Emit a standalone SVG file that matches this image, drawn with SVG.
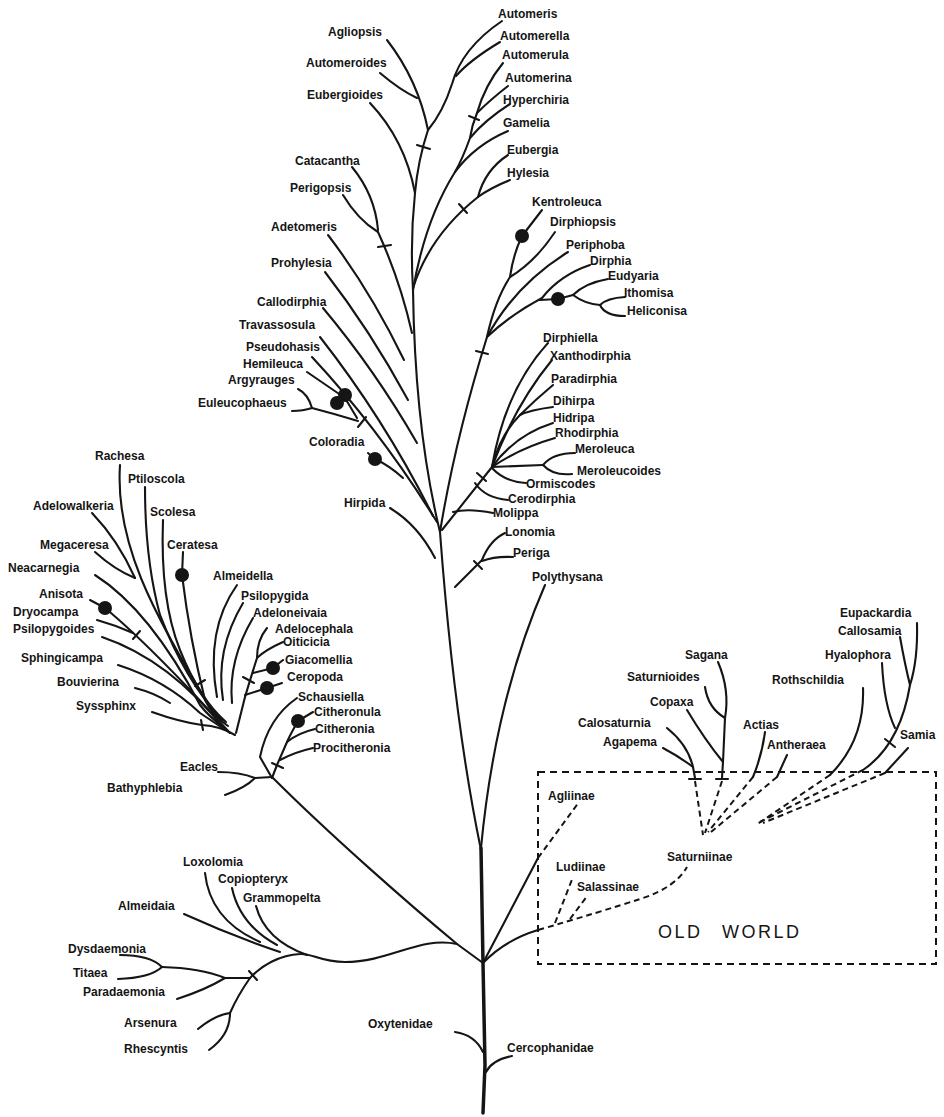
<svg xmlns="http://www.w3.org/2000/svg" width="944" height="1117" viewBox="0 0 944 1117">
<style>
.b{fill:none;stroke:#151515;stroke-width:2.1;stroke-linecap:round;stroke-linejoin:round}
.d{fill:none;stroke:#151515;stroke-width:2;stroke-dasharray:6 4}
.box{fill:none;stroke:#151515;stroke-width:2;stroke-dasharray:7 5}
.tr{fill:none;stroke:#151515;stroke-width:3.5;stroke-linecap:round}
.dot{fill:#151515}
text{font-family:"Liberation Sans",Arial,sans-serif;font-weight:bold;font-size:12px;fill:#151515}
.ow{font-weight:normal;font-size:18px;letter-spacing:2.5px}
</style>
<rect width="944" height="1117" fill="#ffffff"/>
<g id="connectors">
<!-- trunk -->
<path class="tr" d="M481,848 L483,963 L485,1065 L483,1113"/>
<path class="b" d="M440,532 Q454,720 481,850"/>
<path class="b" d="M545,585 Q495,700 481,848"/>
<!-- upper stem -->
<path class="b" d="M413,290 Q415,430 440,532"/>
<path class="b" d="M415,193 Q410,240 413,290"/>
<path class="b" d="M428,130 Q418,160 415,193"/>
<path class="b" d="M502,21 Q462,48 452,84 Q443,112 428,130"/>
<path class="b" d="M500,42 Q470,60 456,76"/>
<path class="b" d="M387,40 Q418,80 428,130"/>
<path class="b" d="M380,73 Q400,90 417,98"/>
<path class="b" d="M370,103 Q405,140 415,193"/>
<path class="b" d="M503,63 Q485,85 477,113 Q472,125 470,138"/>
<path class="b" d="M508,86 Q490,100 477,113"/>
<path class="b" d="M510,104 Q485,120 470,138"/>
<path class="b" d="M470,138 Q462,160 455,172"/>
<path class="b" d="M508,131 Q475,145 455,172"/>
<path class="b" d="M455,172 Q425,220 413,290"/>
<path class="b" d="M508,155 Q485,170 478,197"/>
<path class="b" d="M510,180 Q490,188 478,197"/>
<path class="b" d="M478,197 Q430,235 413,288"/>
<path class="b" d="M352,167 Q375,195 378,230"/>
<path class="b" d="M343,195 Q358,220 378,232"/>
<path class="b" d="M378,232 Q400,280 412,333"/>
<path class="b" d="M328,235 Q370,290 404,360"/>
<path class="b" d="M325,272 Q370,330 408,400"/>
<path class="b" d="M323,308 Q375,370 417,443"/>
<path class="b" d="M320,337 Q385,420 433,516"/>
<path class="b" d="M312,357 Q380,430 437,522"/>
<path class="b" d="M307,372 L345,398 L357,418"/>
<path class="b" d="M298,389 Q308,394 312,408 Q335,414 358,421"/>
<path class="b" d="M292,411 Q303,411 312,408"/>
<path class="b" d="M368,453 L375,459 Q390,466 403,478"/>
<path class="b" d="M390,508 Q418,525 435,558"/>
<!-- right main branch -->
<path class="b" d="M440,532 Q455,440 487,337"/>
<path class="b" d="M542,210 L522,236 Q513,255 510,277"/>
<path class="b" d="M555,232 Q535,262 510,277"/>
<path class="b" d="M510,277 Q495,300 487,337"/>
<path class="b" d="M568,252 Q515,285 487,337"/>
<path class="b" d="M590,265 Q560,275 542,298 Q510,315 487,337"/>
<path class="b" d="M540,300 L558,299 L573,295"/>
<path class="b" d="M608,279 Q585,283 573,295"/>
<path class="b" d="M573,295 Q585,304 600,305"/>
<path class="b" d="M625,297 Q607,298 600,305"/>
<path class="b" d="M625,316 Q605,316 600,305"/>
<path class="b" d="M548,343 Q505,390 492,467"/>
<path class="b" d="M552,360 Q515,405 492,467"/>
<path class="b" d="M553,385 Q535,400 520,415 Q500,435 492,467"/>
<path class="b" d="M553,407 Q530,410 520,415"/>
<path class="b" d="M553,423 Q515,435 492,467"/>
<path class="b" d="M555,438 Q520,448 492,467"/>
<path class="b" d="M575,453 Q553,453 543,465"/>
<path class="b" d="M572,474 Q553,476 543,465"/>
<path class="b" d="M543,465 L492,467"/>
<path class="b" d="M526,483 Q505,482 492,468"/>
<path class="b" d="M492,467 L442,530"/>
<path class="b" d="M508,500 Q485,498 475,483"/>
<path class="b" d="M493,513 Q468,508 453,512"/>
<path class="b" d="M505,533 Q490,540 482,560 L455,587"/>
<path class="b" d="M513,557 Q495,556 482,561"/>
<!-- Ceratocampinae -->
<path class="b" d="M120,465 C115,540 150,610 215,715"/>
<path class="b" d="M92,513 Q118,540 135,578"/>
<path class="b" d="M95,552 Q115,570 135,578"/>
<path class="b" d="M145,487 Q145,560 160,615 Q185,680 222,720"/>
<path class="b" d="M163,520 Q160,600 180,650 Q200,700 226,722"/>
<path class="b" d="M183,552 L182,575 Q190,640 205,700 Q212,715 228,726"/>
<path class="b" d="M95,575 Q150,610 200,705 Q210,718 225,728"/>
<path class="b" d="M90,600 L105,608 Q150,645 230,733"/>
<path class="b" d="M97,620 Q115,625 133,633"/>
<path class="b" d="M102,637 Q170,660 225,730"/>
<path class="b" d="M118,665 Q165,680 200,713 L230,733"/>
<path class="b" d="M135,688 Q155,693 170,703"/>
<path class="b" d="M152,712 Q180,722 202,725 Q220,726 235,735"/>
<path class="b" d="M237,585 Q205,630 217,697"/>
<path class="b" d="M243,603 Q215,650 223,700"/>
<path class="b" d="M253,618 Q228,660 232,703"/>
<path class="b" d="M267,628 Q257,640 257,658 Q250,680 245,697 L236,733"/>
<path class="b" d="M283,642 Q265,650 257,658"/>
<path class="b" d="M283,660 L273,668 L253,673"/>
<path class="b" d="M282,683 L267,688 L245,695"/>
<!-- Citheroniinae -->
<path class="b" d="M297,698 Q268,718 260,757 L272,778"/>
<path class="b" d="M313,712 L298,721 Q290,735 287,742 L277,765 L272,778"/>
<path class="b" d="M315,729 Q298,733 287,742"/>
<path class="b" d="M313,748 Q295,752 280,760"/>
<path class="b" d="M218,772 Q240,772 255,778"/>
<path class="b" d="M225,795 Q245,788 255,778"/>
<path class="b" d="M255,778 L272,777"/>
<path class="b" d="M272,777 C330,835 410,905 457,944 L483,963"/>
<!-- Arsenurinae -->
<path class="b" d="M457,944 C420,936 390,962 345,962 C320,962 312,953 300,954 C280,955 262,965 250,978"/>
<path class="b" d="M184,914 Q230,935 280,952"/>
<path class="b" d="M205,873 Q210,920 260,942"/>
<path class="b" d="M232,888 Q240,925 277,945"/>
<path class="b" d="M256,906 Q265,940 307,955"/>
<path class="b" d="M250,978 L225,978"/>
<path class="b" d="M120,955 Q150,955 162,967"/>
<path class="b" d="M118,979 Q150,978 162,967"/>
<path class="b" d="M162,967 Q200,968 225,978"/>
<path class="b" d="M177,999 Q205,990 225,978"/>
<path class="b" d="M250,978 Q238,995 230,1013"/>
<path class="b" d="M198,1029 Q215,1015 230,1013"/>
<path class="b" d="M209,1050 Q230,1035 230,1013"/>
<path class="b" d="M455,1032 Q475,1035 483,1052"/>
<path class="b" d="M512,1056 Q492,1060 486,1072"/>
<!-- Old world -->
<path class="b" d="M483,963 L538,858"/>
<path class="d" d="M538,858 L579,802"/>
<path class="b" d="M483,963 Q505,940 538,930"/>
<path class="d" d="M538,930 Q600,912 640,899 Q675,888 687,867"/>
<path class="d" d="M555,923 L573,877"/>
<path class="d" d="M570,919 L588,895"/>
<path class="b" d="M718,662 Q730,690 725,718 L723,762"/>
<path class="b" d="M705,687 Q708,708 725,718"/>
<path class="b" d="M687,710 Q705,740 723,762"/>
<path class="b" d="M723,762 L722,778"/>
<path class="b" d="M667,728 Q688,745 693,767"/>
<path class="b" d="M663,748 Q680,757 693,767"/>
<path class="b" d="M693,767 L695,778"/>
<path class="b" d="M765,732 Q762,755 753,777"/>
<path class="b" d="M787,755 L777,777"/>
<path class="b" d="M863,688 Q865,740 830,775"/>
<path class="b" d="M882,663 Q884,705 895,728"/>
<path class="b" d="M917,623 Q918,660 910,685"/>
<path class="b" d="M900,637 Q905,665 910,685"/>
<path class="b" d="M910,685 Q900,745 863,770"/>
<path class="b" d="M908,748 L885,773"/>
<path class="d" d="M695,781 L703,835"/>
<path class="d" d="M722,781 L705,833"/>
<path class="d" d="M753,777 L708,832"/>
<path class="d" d="M777,777 L711,832"/>
<path class="d" d="M830,775 L756,825"/>
<path class="d" d="M863,770 L760,822"/>
<path class="d" d="M885,773 L763,823"/>
<!-- ticks -->
<path class="b" d="M417,145 L430,149"/>
<path class="b" d="M469,116 L479,120"/>
<path class="b" d="M459,204 L467,213"/>
<path class="b" d="M378,247 L391,245"/>
<path class="b" d="M476,351 L488,354"/>
<path class="b" d="M358,427 L366,417"/>
<path class="b" d="M477,473 L486,481"/>
<path class="b" d="M474,561 L482,569"/>
<path class="b" d="M133,639 L140,631"/>
<path class="b" d="M195,686 L205,680"/>
<path class="b" d="M201,720 L203,730"/>
<path class="b" d="M243,677 L254,683"/>
<path class="b" d="M272,763 L283,768"/>
<path class="b" d="M249,971 L257,980"/>
<path class="b" d="M885,739 L895,747"/>
<path class="b" d="M689,779 L701,779"/>
<path class="b" d="M716,779 L728,779"/>
</g>
<rect id="old-world-box" class="box" x="538" y="772" width="398" height="192"/>
<g id="n-Automeris"><text x="498" y="18">Automeris</text></g>
<g id="n-Agliopsis"><text x="328" y="36">Agliopsis</text></g>
<g id="n-Automerella"><text x="500" y="40">Automerella</text></g>
<g id="n-Automerula"><text x="502" y="59">Automerula</text></g>
<g id="n-Automeroides"><text x="306" y="67">Automeroides</text></g>
<g id="n-Automerina"><text x="505" y="82">Automerina</text></g>
<g id="n-Eubergioides"><text x="307" y="99">Eubergioides</text></g>
<g id="n-Hyperchiria"><text x="503" y="104">Hyperchiria</text></g>
<g id="n-Gamelia"><text x="503" y="127">Gamelia</text></g>
<g id="n-Eubergia"><text x="507" y="154">Eubergia</text></g>
<g id="n-Catacantha"><text x="295" y="165">Catacantha</text></g>
<g id="n-Hylesia"><text x="507" y="177">Hylesia</text></g>
<g id="n-Perigopsis"><text x="290" y="192">Perigopsis</text></g>
<g id="n-Kentroleuca"><text x="532" y="206">Kentroleuca</text><circle class="dot" cx="522" cy="236" r="7"/></g>
<g id="n-Dirphiopsis"><text x="550" y="226">Dirphiopsis</text></g>
<g id="n-Adetomeris"><text x="271" y="231">Adetomeris</text></g>
<g id="n-Periphoba"><text x="566" y="249">Periphoba</text></g>
<g id="n-Dirphia"><text x="590" y="265">Dirphia</text></g>
<g id="n-Prohylesia"><text x="271" y="267">Prohylesia</text></g>
<g id="n-Eudyaria"><text x="608" y="280">Eudyaria</text><circle class="dot" cx="558" cy="299" r="7"/></g>
<g id="n-Ithomisa"><text x="624" y="297">Ithomisa</text></g>
<g id="n-Heliconisa"><text x="627" y="315">Heliconisa</text></g>
<g id="n-Callodirphia"><text x="257" y="306">Callodirphia</text></g>
<g id="n-Travassosula"><text x="239" y="329">Travassosula</text></g>
<g id="n-Dirphiella"><text x="543" y="342">Dirphiella</text></g>
<g id="n-Pseudohasis"><text x="246" y="351">Pseudohasis</text></g>
<g id="n-Xanthodirphia"><text x="550" y="360">Xanthodirphia</text></g>
<g id="n-Hemileuca"><text x="243" y="368">Hemileuca</text><circle class="dot" cx="345" cy="395" r="7"/></g>
<g id="n-Argyrauges"><text x="228" y="384">Argyrauges</text><circle class="dot" cx="337" cy="403" r="7"/></g>
<g id="n-Paradirphia"><text x="551" y="383">Paradirphia</text></g>
<g id="n-Dihirpa"><text x="553" y="405">Dihirpa</text></g>
<g id="n-Euleucophaeus"><text x="198" y="407">Euleucophaeus</text></g>
<g id="n-Hidripa"><text x="553" y="422">Hidripa</text></g>
<g id="n-Rhodirphia"><text x="555" y="437">Rhodirphia</text></g>
<g id="n-Coloradia"><text x="309" y="446">Coloradia</text><circle class="dot" cx="375" cy="459" r="7"/></g>
<g id="n-Meroleuca"><text x="575" y="453">Meroleuca</text></g>
<g id="n-Meroleucoides"><text x="577" y="475">Meroleucoides</text></g>
<g id="n-Ormiscodes"><text x="526" y="488">Ormiscodes</text></g>
<g id="n-Cerodirphia"><text x="508" y="503">Cerodirphia</text></g>
<g id="n-Hirpida"><text x="344" y="507">Hirpida</text></g>
<g id="n-Molippa"><text x="493" y="517">Molippa</text></g>
<g id="n-Lonomia"><text x="505" y="536">Lonomia</text></g>
<g id="n-Periga"><text x="513" y="557">Periga</text></g>
<g id="n-Polythysana"><text x="532" y="581">Polythysana</text></g>
<g id="n-Rachesa"><text x="95" y="460">Rachesa</text></g>
<g id="n-Ptiloscola"><text x="128" y="483">Ptiloscola</text></g>
<g id="n-Adelowalkeria"><text x="33" y="510">Adelowalkeria</text></g>
<g id="n-Scolesa"><text x="150" y="516">Scolesa</text></g>
<g id="n-Megaceresa"><text x="40" y="549">Megaceresa</text></g>
<g id="n-Ceratesa"><text x="167" y="549">Ceratesa</text><circle class="dot" cx="182" cy="575" r="7"/></g>
<g id="n-Neacarnegia"><text x="8" y="572">Neacarnegia</text></g>
<g id="n-Almeidella"><text x="213" y="580">Almeidella</text></g>
<g id="n-Anisota"><text x="39" y="598">Anisota</text><circle class="dot" cx="105" cy="608" r="7"/></g>
<g id="n-Psilopygida"><text x="241" y="600">Psilopygida</text></g>
<g id="n-Dryocampa"><text x="13" y="616">Dryocampa</text></g>
<g id="n-Adeloneivaia"><text x="253" y="617">Adeloneivaia</text></g>
<g id="n-Psilopygoides"><text x="13" y="633">Psilopygoides</text></g>
<g id="n-Adelocephala"><text x="275" y="633">Adelocephala</text></g>
<g id="n-Oiticicia"><text x="283" y="646">Oiticicia</text></g>
<g id="n-Sphingicampa"><text x="21" y="662">Sphingicampa</text></g>
<g id="n-Giacomellia"><text x="285" y="664">Giacomellia</text><circle class="dot" cx="273" cy="668" r="7"/></g>
<g id="n-Ceropoda"><text x="287" y="681">Ceropoda</text><circle class="dot" cx="267" cy="688" r="7"/></g>
<g id="n-Bouvierina"><text x="57" y="686">Bouvierina</text></g>
<g id="n-Schausiella"><text x="298" y="701">Schausiella</text></g>
<g id="n-Syssphinx"><text x="76" y="710">Syssphinx</text></g>
<g id="n-Citheronula"><text x="314" y="716">Citheronula</text><circle class="dot" cx="298" cy="721" r="7"/></g>
<g id="n-Citheronia"><text x="315" y="733">Citheronia</text></g>
<g id="n-Procitheronia"><text x="313" y="752">Procitheronia</text></g>
<g id="n-Eacles"><text x="180" y="771">Eacles</text></g>
<g id="n-Bathyphlebia"><text x="107" y="792">Bathyphlebia</text></g>
<g id="n-Loxolomia"><text x="183" y="866">Loxolomia</text></g>
<g id="n-Copiopteryx"><text x="218" y="883">Copiopteryx</text></g>
<g id="n-Grammopelta"><text x="243" y="902">Grammopelta</text></g>
<g id="n-Almeidaia"><text x="118" y="910">Almeidaia</text></g>
<g id="n-Dysdaemonia"><text x="68" y="953">Dysdaemonia</text></g>
<g id="n-Titaea"><text x="73" y="977">Titaea</text></g>
<g id="n-Paradaemonia"><text x="83" y="996">Paradaemonia</text></g>
<g id="n-Arsenura"><text x="124" y="1027">Arsenura</text></g>
<g id="n-Rhescyntis"><text x="124" y="1053">Rhescyntis</text></g>
<g id="n-Oxytenidae"><text x="368" y="1028">Oxytenidae</text></g>
<g id="n-Cercophanidae"><text x="507" y="1052">Cercophanidae</text></g>
<g id="n-Eupackardia"><text x="840" y="617">Eupackardia</text></g>
<g id="n-Callosamia"><text x="838" y="635">Callosamia</text></g>
<g id="n-Sagana"><text x="685" y="659">Sagana</text></g>
<g id="n-Hyalophora"><text x="825" y="659">Hyalophora</text></g>
<g id="n-Saturnioides"><text x="627" y="681">Saturnioides</text></g>
<g id="n-Rothschildia"><text x="772" y="684">Rothschildia</text></g>
<g id="n-Copaxa"><text x="650" y="706">Copaxa</text></g>
<g id="n-Calosaturnia"><text x="578" y="727">Calosaturnia</text></g>
<g id="n-Actias"><text x="743" y="729">Actias</text></g>
<g id="n-Samia"><text x="900" y="739">Samia</text></g>
<g id="n-Agapema"><text x="603" y="746">Agapema</text></g>
<g id="n-Antheraea"><text x="767" y="749">Antheraea</text></g>
<g id="n-Agliinae"><text x="548" y="800">Agliinae</text></g>
<g id="n-Saturniinae"><text x="667" y="861">Saturniinae</text></g>
<g id="n-Ludiinae"><text x="556" y="871">Ludiinae</text></g>
<g id="n-Salassinae"><text x="577" y="891">Salassinae</text></g>
<g id="old-world"><text class="ow" x="658" y="938">OLD</text><text class="ow" x="722" y="938">WORLD</text></g>
</svg>
